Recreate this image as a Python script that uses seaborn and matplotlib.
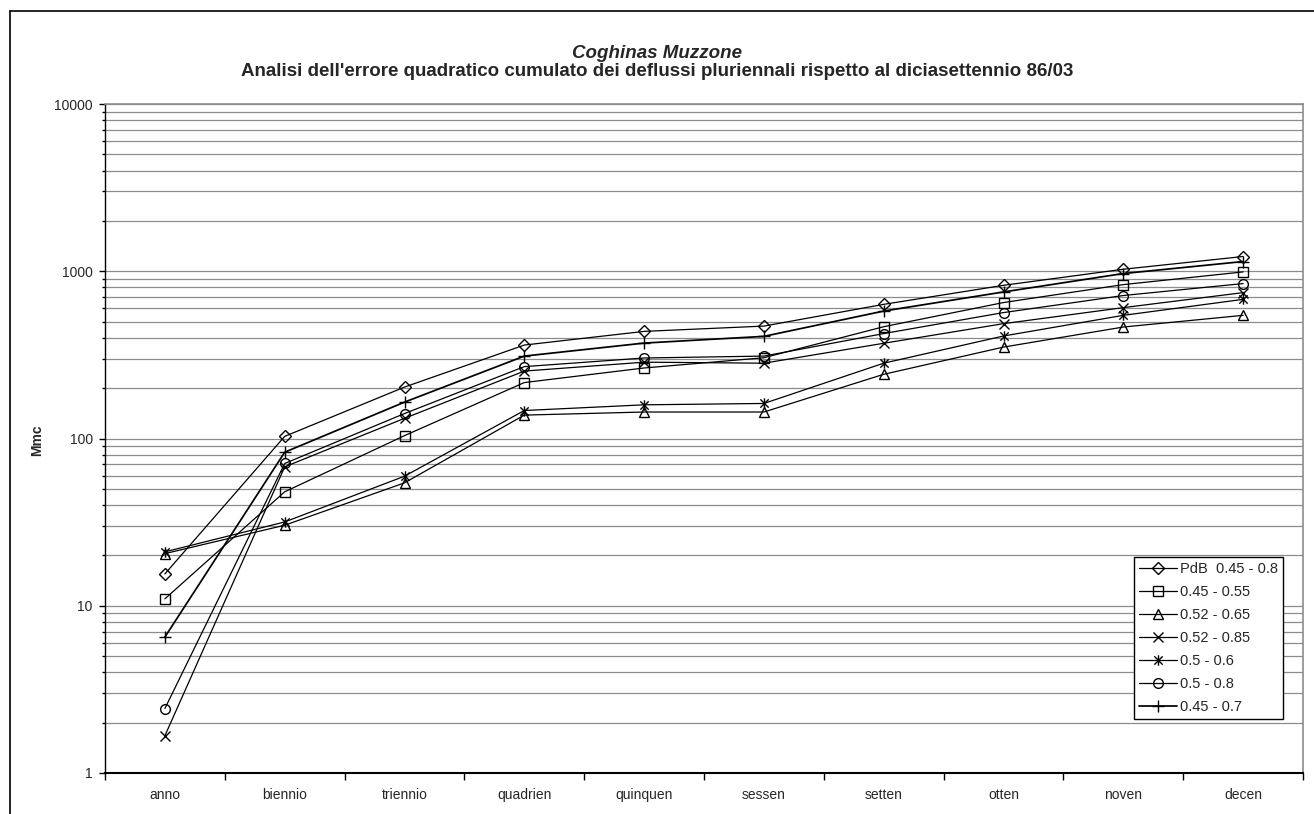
import numpy as np
import pandas as pd
import matplotlib
matplotlib.use("Agg")
import matplotlib.pyplot as plt
from matplotlib.path import Path
from matplotlib.lines import Line2D
from matplotlib.ticker import FixedLocator, LogLocator, NullFormatter, FixedFormatter
import seaborn as sns

# Cumulative windows (x axis)
periods = ["anno", "biennio", "triennio", "quadrien", "quinquen",
           "sessen", "setten", "otten", "noven", "decen"]

# Cumulative squared error (Mmc) for each coefficient set
pdb_045_08 = [15.5, 103, 203, 362, 437, 470, 634, 824, 1028, 1225]
s_045_055 = [11.0, 48, 104, 216, 264, 304, 466, 650, 832, 991]
s_052_065 = [20.5, 30.3, 54.3, 138, 144, 144, 242, 352, 464, 545]
s_052_085 = [1.67, 67.7, 132, 253, 286, 282, 371, 486, 606, 745]
s_05_06 = [21.0, 31.7, 59.5, 147, 159, 162, 282, 410, 545, 679]
s_05_08 = [2.43, 70.9, 141, 269, 303, 311, 424, 566, 716, 844]
s_045_07 = [6.5, 82.8, 165, 311, 372, 408, 578, 752, 969, 1143]

labels = ["PdB  0.45 - 0.8", "0.45 - 0.55", "0.52 - 0.65", "0.52 - 0.85",
          "0.5 - 0.6", "0.5 - 0.8", "0.45 - 0.7"]
series = [pdb_045_08, s_045_055, s_052_065, s_052_085, s_05_06, s_05_08, s_045_07]

# Excel-like "star" marker: an X crossed by a vertical bar
star = Path([(-1, -1), (1, 1), (-1, 1), (1, -1), (0, -1.25), (0, 1.25)],
            [Path.MOVETO, Path.LINETO, Path.MOVETO, Path.LINETO, Path.MOVETO, Path.LINETO])
marker_styles = {
    labels[0]: dict(marker="D", ms=6.0),
    labels[1]: dict(marker="s", ms=6.5),
    labels[2]: dict(marker="^", ms=7.0),
    labels[3]: dict(marker="x", ms=7.0),
    labels[4]: dict(marker=star, ms=7.5),
    labels[5]: dict(marker="o", ms=7.0),
    labels[6]: dict(marker="+", ms=9.0),
}

sns.set_style("white")
plt.rcParams["font.family"] = ["Liberation Sans", "DejaVu Sans"]

fig = plt.figure(figsize=(13.14, 8.14), dpi=100)
ax = fig.add_axes([105 / 1314, 1 - 773 / 814, 1198 / 1314, 669 / 814])

xpos = np.arange(len(periods))
for lab, vals in zip(labels, series):
    df = pd.DataFrame({"x": xpos, "y": vals})
    st = marker_styles[lab]
    is_plus = lab == labels[6]
    sns.lineplot(data=df, x="x", y="y", ax=ax, color="black",
                 lw=1.25 if is_plus else 0.9,
                 marker=st["marker"], markersize=st["ms"],
                 markerfacecolor="none", markeredgecolor="black",
                 markeredgewidth=1.0, label=lab, errorbar=None)

ax.set_yscale("log")
ax.set_ylim(1, 10000)
ax.set_xlim(-0.5, len(periods) - 0.5)

# y axis: decade labels, minor grid at every unit step
ax.yaxis.set_major_locator(FixedLocator([1, 10, 100, 1000, 10000]))
ax.yaxis.set_major_formatter(FixedFormatter(["1", "10", "100", "1000", "10000"]))
ax.yaxis.set_minor_locator(LogLocator(base=10, subs=np.arange(2, 10), numticks=20))
ax.yaxis.set_minor_formatter(NullFormatter())
ax.grid(True, which="both", axis="y", color="#8c8c8c", lw=0.9)
ax.grid(False, axis="x")

# x axis: ticks at category boundaries, labels centred in each slot
ax.xaxis.set_major_locator(FixedLocator(np.arange(-0.5, len(periods), 1.0)))
ax.xaxis.set_major_formatter(NullFormatter())
ax.xaxis.set_minor_locator(FixedLocator(xpos))
ax.xaxis.set_minor_formatter(FixedFormatter(periods))
ax.tick_params(axis="x", which="major", direction="out", length=5, width=1, color="black", bottom=True)
ax.tick_params(axis="x", which="minor", length=0, labelsize=10, pad=10.5, bottom=True)
ax.tick_params(axis="y", which="major", direction="out", length=4, width=1, color="black",
               labelsize=10, pad=4.8, left=True)
ax.tick_params(axis="y", which="minor", direction="out", length=2, width=1, color="black", left=True)

ax.set_xlabel("")
ax.set_ylabel("Mmc", fontsize=10, fontweight="bold")
ax.yaxis.set_label_coords((37 - 105) / 1198, 0.5 - 1.5 / 669)
ax.yaxis.label.set_va("center")

for side in ("top", "right"):
    ax.spines[side].set_color("#8c8c8c")
    ax.spines[side].set_linewidth(1.2)
ax.spines["left"].set_color("black")
ax.spines["left"].set_linewidth(1.0)
ax.spines["bottom"].set_color("black")
ax.spines["bottom"].set_linewidth(1.5)

leg = ax.legend(loc="lower left", bbox_to_anchor=((1134 - 105) / 1198, (773 - 719) / 669),
                borderaxespad=0, frameon=True, fancybox=False, shadow=False,
                fontsize=10.5, handlelength=2.6, labelspacing=0.62, handletextpad=0.2,
                borderpad=0.35, edgecolor="black", framealpha=1)
leg.get_frame().set_linewidth(1.0)

fig.text(0.5, 1 - 53 / 814, "Coghinas Muzzone", ha="center", va="center",
         fontsize=13.5, fontweight="bold", fontstyle="italic")
fig.text(0.5, 1 - 71.5 / 814,
         "Analisi dell'errore quadratico cumulato dei deflussi pluriennali rispetto al diciasettennio 86/03",
         ha="center", va="center", fontsize=13.5, fontweight="bold")

# chart frame
fig.add_artist(Line2D([9.5 / 1314, 9.5 / 1314], [0, 1 - 11 / 814], transform=fig.transFigure,
                      color="black", lw=1.2))
fig.add_artist(Line2D([9.5 / 1314, 1], [1 - 11 / 814, 1 - 11 / 814], transform=fig.transFigure,
                      color="black", lw=1.2))

fig.savefig("out.png", dpi=100, facecolor="white")
